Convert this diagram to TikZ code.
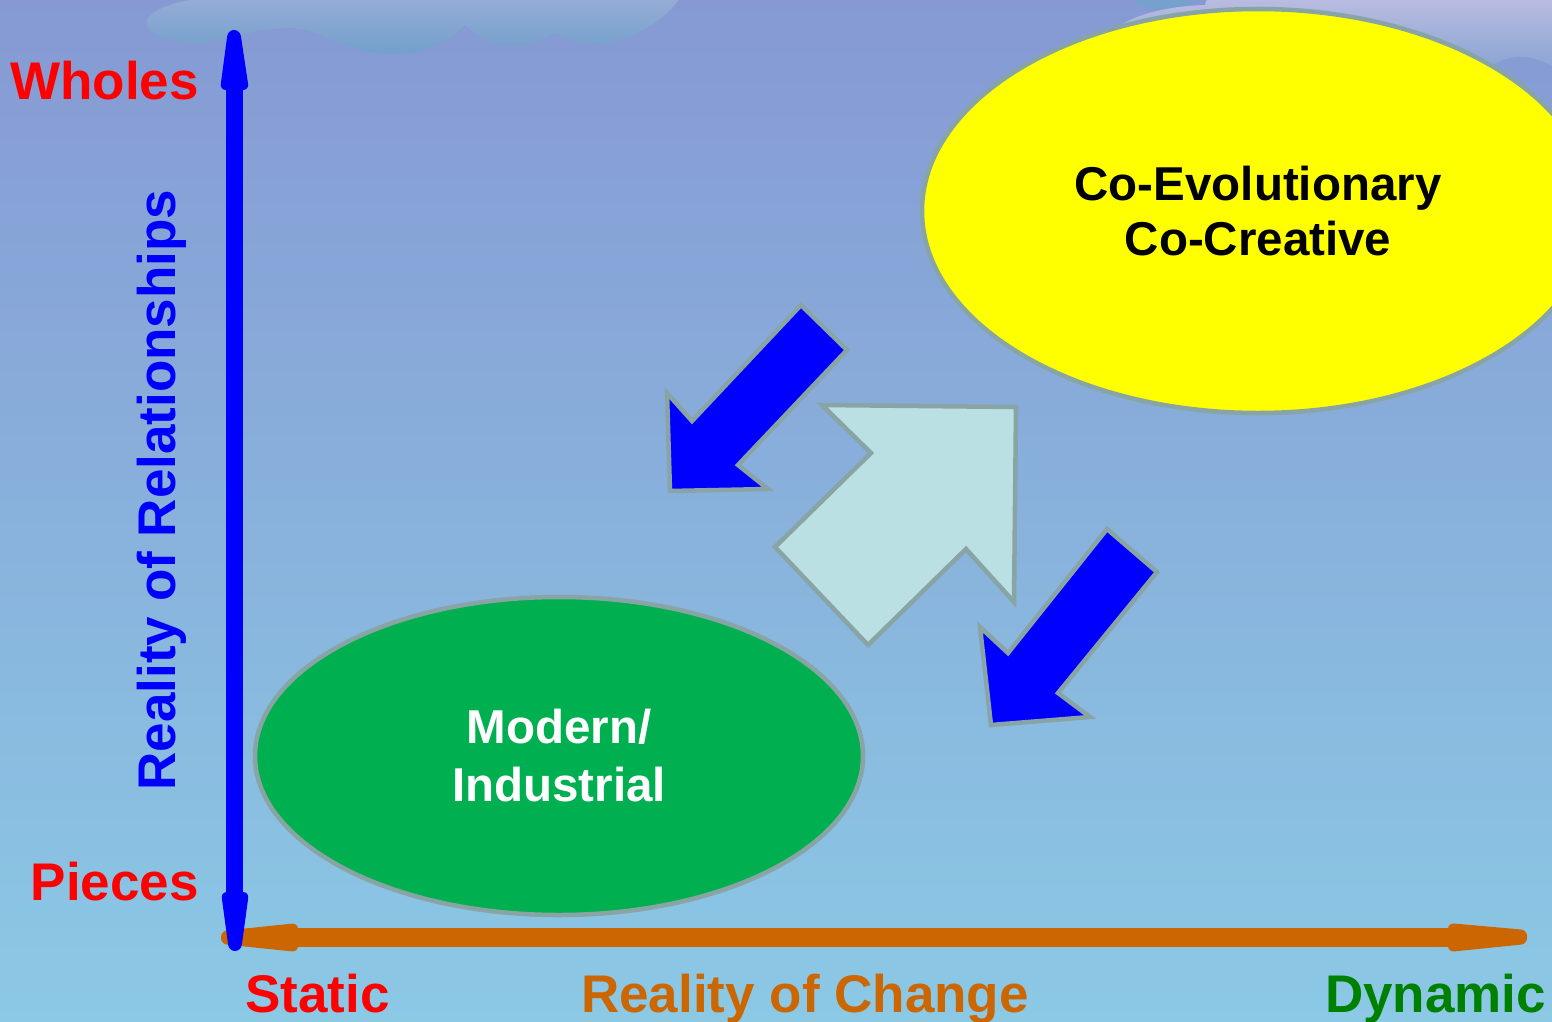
\documentclass[tikz,border=0pt]{standalone}
\usepackage{fontspec}
\setmainfont{Liberation Sans}
\usetikzlibrary{shapes.geometric}
\definecolor{bgTop}{HTML}{8699D3}
\definecolor{bgBot}{HTML}{8BC9E5}
\definecolor{cloudTop}{HTML}{96ACD6}
\definecolor{cloudBot}{HTML}{71A0CB}
\definecolor{cloudLtTop}{HTML}{BCBDE1}
\definecolor{cloudLtBot}{HTML}{85A3D2}
\definecolor{axisBlue}{HTML}{0000FF}
\definecolor{axisOrange}{HTML}{CC6600}
\definecolor{txtRed}{HTML}{FF0000}
\definecolor{txtGreen}{HTML}{008000}
\definecolor{ellYellow}{HTML}{FFFF00}
\definecolor{ellGreen}{HTML}{00B050}
\definecolor{edgeGray}{HTML}{88A4A4}
\definecolor{paleArrow}{HTML}{BAE0E3}
\begin{document}
\begin{tikzpicture}[x=1pt,y=-1pt,
  lbl/.style={font=\bfseries\fontsize{53}{60}\selectfont, inner sep=0pt},
  bubble/.style={ellipse, draw=edgeGray, line width=4.5pt, inner sep=0pt, align=center},
  blockarrow/.style={draw=edgeGray, line width=4.5pt, miter limit=10},
  axishead/.style={rounded corners=6pt}
]
\useasboundingbox (0,0) rectangle (1552,1022);
\clip (0,0) rectangle (1552,1022);
% background
\shade[top color=bgTop, bottom color=bgBot] (0,0) rectangle (1552,1022);
% clouds
\shade[top color=cloudTop, bottom color=cloudBot]
  (680,-2) .. controls (665,20) and (640,35) .. (610,43)
  .. controls (590,48) and (570,40) .. (555,33)
  .. controls (540,42) and (525,47) .. (510,46)
  .. controls (490,45) and (475,35) .. (465,25)
  .. controls (445,45) and (420,55) .. (390,54)
  .. controls (345,53) and (320,28) .. (290,28)
  .. controls (250,28) and (215,45) .. (190,43)
  .. controls (160,40) and (140,30) .. (148,18)
  .. controls (155,8) and (180,0) .. (205,-2) -- cycle;
\fill[cloudBot!90!cloudTop] (1165,-2) ellipse [x radius=30, y radius=12];
\shade[top color=cloudLtTop, bottom color=cloudLtBot]
  (1208,-5) -- (1205,5) .. controls (1170,6) and (1130,14) .. (1112,32)
  -- (1250,75) -- (1470,75) -- (1488,70)
  .. controls (1495,62) and (1505,58) .. (1517,57)
  .. controls (1530,56) and (1545,60) .. (1560,72) -- (1560,-5) -- cycle;
% ellipses
\node[bubble, fill=ellYellow, minimum width=672pt, minimum height=404pt,
      font=\bfseries\fontsize{47.5}{55}\selectfont] (coevo) at (1258,211)
  {Co-Evolutionary\\Co-Creative};
\node[bubble, fill=ellGreen, text=white, minimum width=608pt, minimum height=318pt,
      font=\bfseries\fontsize{47.5}{58}\selectfont] (modern) at (559,756)
  {Modern/\\Industrial};
% block arrows
\draw[blockarrow, fill=paleArrow] (822,405) -- (1016,407) -- (1014,602) -- (966,549)
  -- (868,645) -- (775,547) -- (871,453) -- cycle;
\draw[blockarrow, fill=axisBlue] (801,305) -- (847,350) -- (738,465) -- (768,489)
  -- (670,491) -- (667,393) -- (692,421) -- cycle;
\draw[blockarrow, fill=axisBlue] (1107,529) -- (1157,572) -- (1058,693) -- (1090,717)
  -- (991,725) -- (980,627) -- (1008,653) -- cycle;
% horizontal axis (orange)
\coordinate (xl) at (290,937);
\coordinate (xr) at (1455,937);
\draw[axisOrange, line width=19pt] (xl) -- (xr);
\fill[axisOrange, axishead] (298,923) -- (221,931) -- (221,944) -- (298,952) -- cycle;
\fill[axisOrange, axishead] (1448,923) -- (1527,930) -- (1527,944) -- (1448,952) -- cycle;
% vertical axis (blue)
\coordinate (yt) at (234,84);
\coordinate (yb) at (234,898);
\draw[axisBlue, line width=17pt] (yb) -- (yt);
\fill[axisBlue, axishead] (220,90) -- (228,30) -- (240,30) -- (249,90) -- cycle;
\fill[axisBlue, axishead] (221,892) -- (249,892) -- (241,951) -- (229,951) -- cycle;
% labels
\node[lbl, text=txtRed, anchor=base east] (wholes) at (199,100) {Wholes};
\node[lbl, text=txtRed, anchor=base east] (pieces) at (199,900) {Pieces};
\node[lbl, text=txtRed, anchor=base west] (static) at (245,1012) {Static};
\node[lbl, text=axisOrange, anchor=base west] (change) at (581,1012) {Reality of Change};
\node[lbl, text=txtGreen, anchor=base west] (dynamic) at (1325,1012) {Dynamic};
\node[lbl, text=axisBlue, anchor=base, rotate=90] (relations) at (175,490) {Reality of Relationships};
\end{tikzpicture}
\end{document}
